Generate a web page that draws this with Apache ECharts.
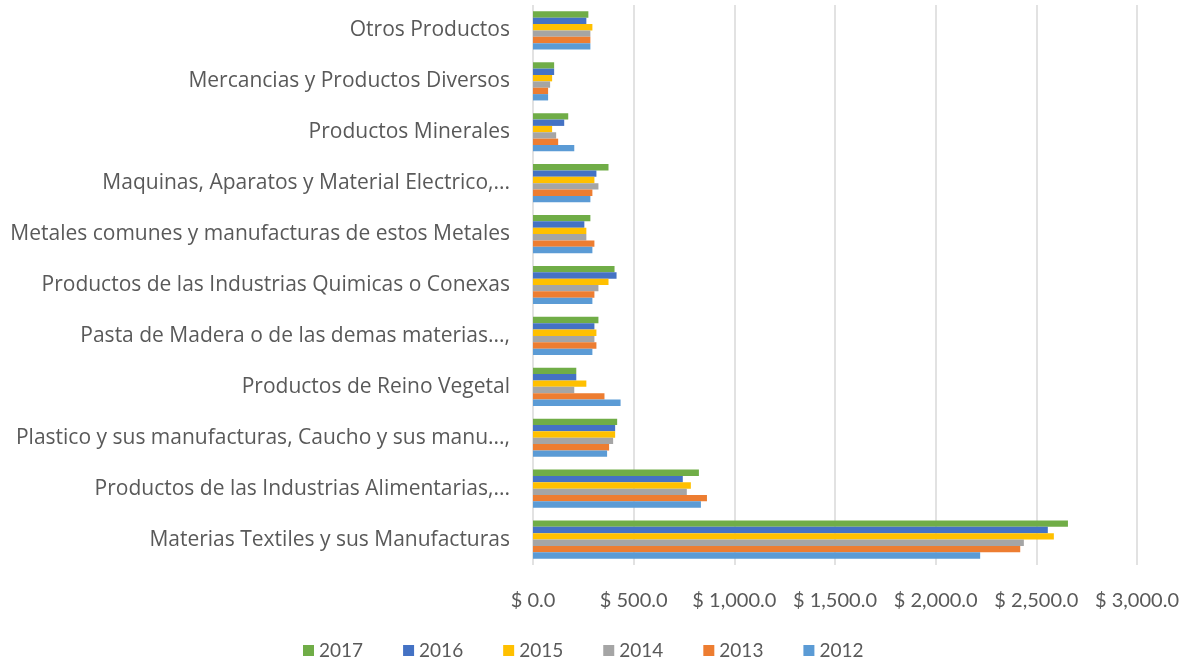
<!DOCTYPE html>
<html>
<head>
<meta charset="utf-8">
<script src="https://cdn.jsdelivr.net/npm/echarts@6/dist/echarts.min.js"></script>
<style>
  html, body { margin: 0; padding: 0; background: #fff; }
  #main { width: 1193px; height: 662px; }
</style>
</head>
<body>
<div id="main"></div>
<script>
// categories, bottom to top
const categories = [
  "Materias Textiles y sus Manufacturas",
  "Productos de las Industrias Alimentarias,...",
  "Plastico y sus manufacturas, Caucho y sus manu...,",
  "Productos de Reino Vegetal",
  "Pasta de Madera o de las demas materias...,",
  "Productos de las Industrias Quimicas o Conexas",
  "Metales comunes y manufacturas de estos Metales",
  "Maquinas, Aparatos y Material Electrico,...",
  "Productos Minerales",
  "Mercancias y Productos Diversos",
  "Otros Productos"
];

// top bar of each group first
const years = ["2017", "2016", "2015", "2014", "2013", "2012"];

const v2017 = [2657, 824, 418, 215, 325, 405, 285, 375, 175, 105, 275];
const v2016 = [2557, 744, 408, 215, 305, 415, 255, 315, 155, 105, 265];
const v2015 = [2587, 784, 408, 265, 315, 375, 265, 305, 95, 95, 295];
const v2014 = [2438, 764, 398, 205, 305, 325, 265, 325, 115, 85, 285];
const v2013 = [2420, 864, 378, 355, 315, 305, 305, 295, 125, 75, 285];
const v2012 = [2221, 834, 368, 435, 295, 295, 295, 285, 205, 75, 285];

const xTicks = [0, 500, 1000, 1500, 2000, 2500, 3000];

const colors = ["#70AD47", "#4472C4", "#FFC000", "#A5A5A5", "#ED7D31", "#5B9BD5"];
const values = [v2017, v2016, v2015, v2014, v2013, v2012];

const chart = echarts.init(document.getElementById("main"));

const fmt = (v) => "$ " + v.toLocaleString("en-US", { minimumFractionDigits: 1, maximumFractionDigits: 1 });

const option = {
  animation: false,
  textStyle: { fontFamily: "Open Sans", color: "#595959" },
  grid: { left: 533, right: 56, top: 5, bottom: 97 },
  legend: {
    data: years,
    bottom: -3,
    left: 298,
    itemWidth: 11,
    itemHeight: 11,
    itemGap: 40,
    icon: "rect",
    textStyle: { fontSize: 19, color: "#595959", fontFamily: "Lato" }
  },
  xAxis: {
    type: "value",
    min: xTicks[0],
    max: xTicks[xTicks.length - 1],
    interval: 500,
    axisLine: { show: false },
    axisTick: { show: false },
    splitLine: { lineStyle: { color: "#D9D9D9", width: 1.5 } },
    axisLabel: {
      margin: 26,
      fontSize: 20,
      color: "#595959",
      fontFamily: "Lato",
      formatter: fmt
    }
  },
  yAxis: {
    type: "category",
    data: categories,
    axisLine: { show: false },
    axisTick: { show: false },
    axisLabel: {
      margin: 23,
      fontSize: 21,
      color: "#595959",
      fontFamily: "Open Sans"
    }
  },
  series: years.map((y, i) => ({
    name: y,
    type: "bar",
    data: values[i],
    itemStyle: { color: colors[i] },
    barGap: "0%",
    barCategoryGap: "25%"
  }))
};

chart.setOption(option);
</script>
</body>
</html>
